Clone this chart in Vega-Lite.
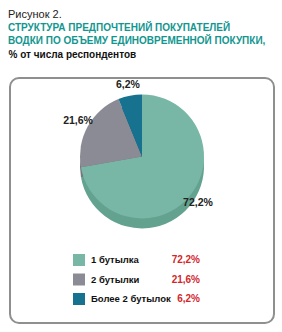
{
  "$schema": "https://vega.github.io/schema/vega-lite/v6.json",
  "background": "white",
  "padding": {"left": 8, "top": 9, "right": 10, "bottom": 10},
  "width": 264,
  "height": 245,
  "title": {
    "text": "Рисунок 2.",
    "subtitle": ["СТРУКТУРА ПРЕДПОЧТЕНИЙ ПОКУПАТЕЛЕЙ", "ВОДКИ ПО ОБЪЕМУ ЕДИНОВРЕМЕННОЙ ПОКУПКИ,"],
    "anchor": "start",
    "font": "Liberation Sans Narrow, sans-serif",
    "fontSize": 11,
    "fontWeight": "normal",
    "color": "#222222",
    "subtitleFont": "Liberation Sans Narrow, sans-serif",
    "subtitleFontSize": 10,
    "subtitleFontWeight": "bold",
    "subtitleColor": "#12968f",
    "subtitleLineHeight": 13,
    "subtitlePadding": 3,
    "offset": 3
  },
  "data": {
    "values": [
      {"cat": "1 бутылка", "value": 72.2, "label": "72,2%"},
      {"cat": "2 бутылки", "value": 21.6, "label": "21,6%"},
      {"cat": "Более 2 бутылок", "value": 6.2, "label": "6,2%"}
    ]
  },
  "encoding": {
    "theta": {"field": "value", "type": "quantitative", "stack": true},
    "order": {"field": "value", "type": "quantitative", "sort": "descending"}
  },
  "layer": [
    {
      "mark": {"type": "rule", "opacity": 0},
      "encoding": {
        "theta": null,
        "order": null,
        "x": {
          "datum": 0,
          "type": "quantitative",
          "scale": {"domain": [0, 1]},
          "axis": {
            "orient": "top",
            "domain": false,
            "ticks": false,
            "labels": false,
            "grid": false,
            "title": "% от числа респондентов",
            "titleFont": "Liberation Sans Narrow, sans-serif",
            "titleFontSize": 10,
            "titleFontWeight": "bold",
            "titleColor": "#111111",
            "titleAnchor": "start",
            "titleAlign": "left",
            "titleBaseline": "alphabetic",
            "titleX": -2,
            "titleY": -21
          }
        }
      }
    },
    {
      "mark": {"type": "arc", "outerRadius": 62, "y": {"expr": "height*0.32+10"}},
      "encoding": {
        "fill": {
          "condition": [
            {"test": "datum.cat === '1 бутылка'", "value": "#64a290"},
            {"test": "datum.cat === '2 бутылки'", "value": "#76777f"}
          ],
          "value": "#0f5f7a"
        }
      }
    },
    {
      "mark": {"type": "arc", "outerRadius": 62, "y": {"expr": "height*0.32"}},
      "encoding": {
        "color": {
          "field": "cat",
          "type": "nominal",
          "scale": {
            "domain": ["1 бутылка", "2 бутылки", "Более 2 бутылок"],
            "range": ["#78b7a5", "#8a8b94", "#16728f"]
          },
          "legend": {
            "title": null,
            "orient": "none",
            "legendX": 63,
            "legendY": 176,
            "symbolType": "square",
            "symbolSize": 144,
            "symbolStrokeWidth": 0,
            "symbolOpacity": 1,
            "labelFont": "Liberation Sans Narrow, sans-serif",
            "labelFontSize": 9.5,
            "labelFontWeight": "bold",
            "labelColor": "#111111",
            "labelOffset": 6,
            "rowPadding": 7.5,
            "padding": 0
          }
        }
      }
    },
    {
      "mark": {
        "type": "text",
        "radius": 73,
        "y": {"expr": "height*0.32"},
        "font": "Liberation Sans Narrow, sans-serif",
        "fontSize": 10.5,
        "fontWeight": "bold",
        "color": "#222222"
      },
      "encoding": {
        "text": {"field": "label"},
        "stroke": {
          "field": "label",
          "type": "nominal",
          "scale": {
            "domain": ["72,2%", "21,6%", "6,2%"],
            "range": ["transparent", "transparent", "transparent"]
          },
          "legend": {
            "title": null,
            "orient": "none",
            "legendX": 175,
            "legendY": 176,
            "symbolType": "square",
            "symbolSize": 144,
            "symbolOpacity": 0,
            "symbolStrokeWidth": 0,
            "labelFont": "Liberation Sans Narrow, sans-serif",
            "labelFontSize": 10,
            "labelFontWeight": "bold",
            "labelColor": "#d3262b",
            "labelAlign": "right",
            "labelOffset": 3,
            "rowPadding": 7.5,
            "padding": 0
          }
        }
      }
    }
  ],
  "config": {
    "view": {"stroke": "#8f8f8f", "strokeWidth": 2, "cornerRadius": 9}
  }
}
